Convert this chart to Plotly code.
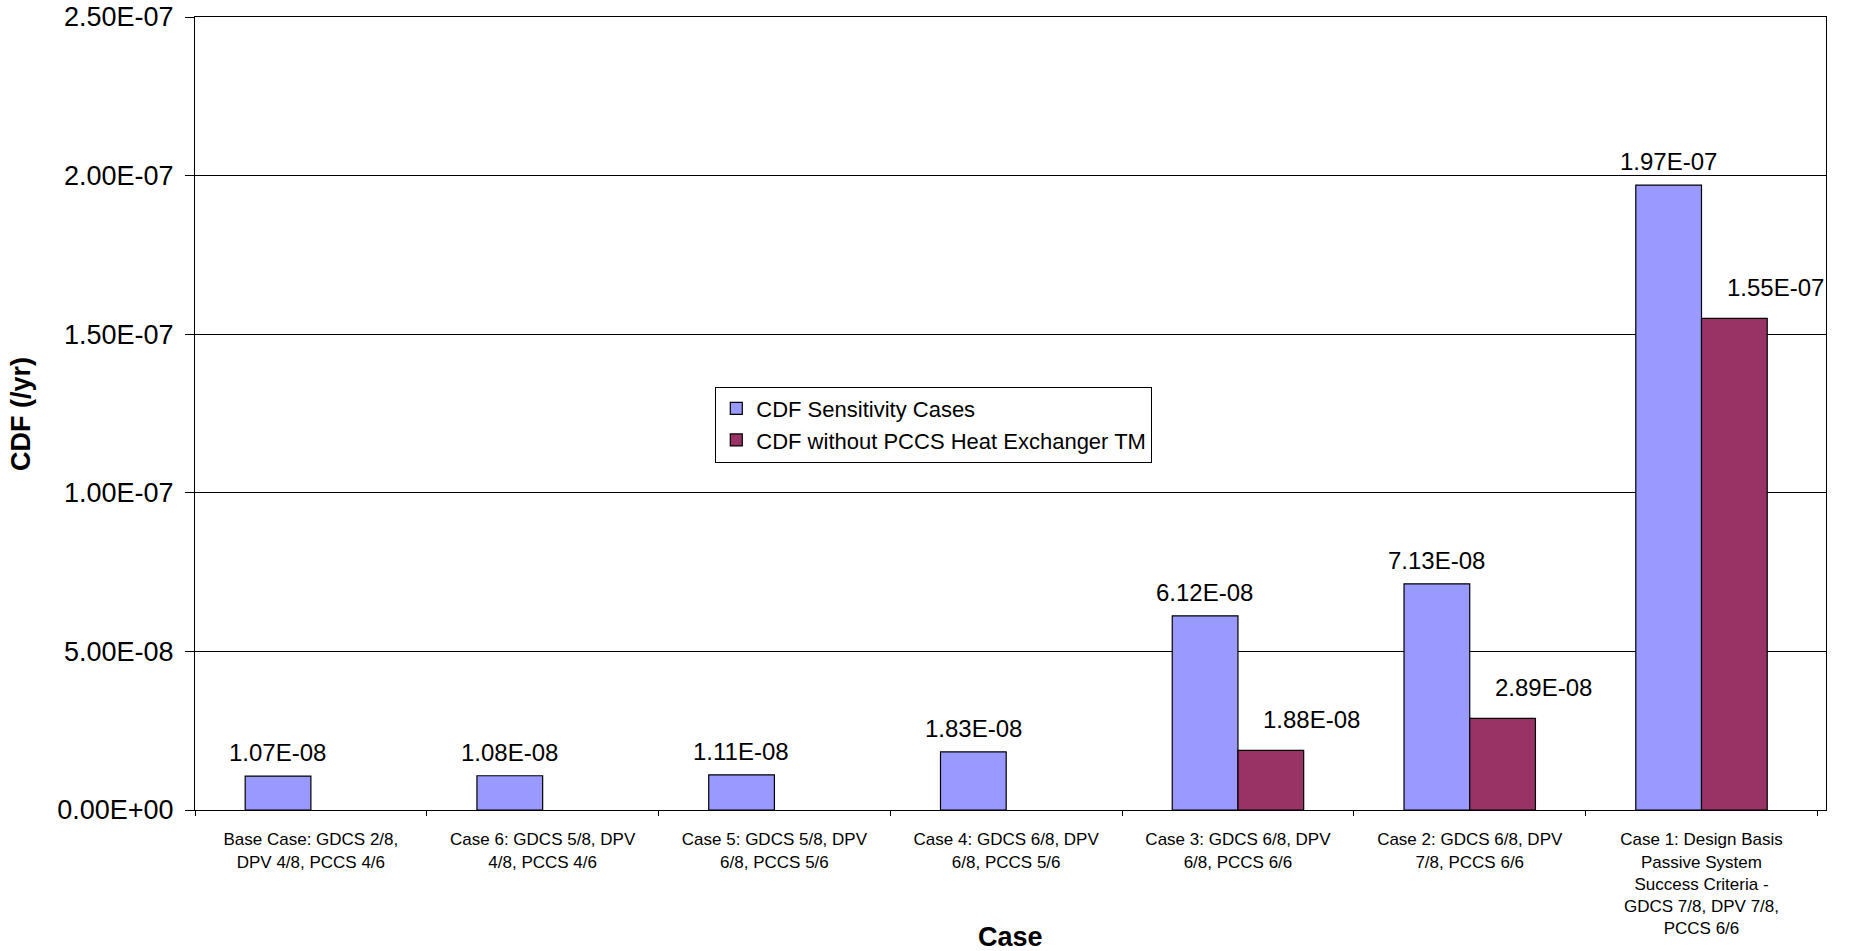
import plotly.graph_objects as go

# ---- data ----
cases = [
    "Base Case: GDCS 2/8,<br>DPV 4/8, PCCS 4/6",
    "Case 6: GDCS 5/8, DPV<br>4/8, PCCS 4/6",
    "Case 5: GDCS 5/8, DPV<br>6/8, PCCS 5/6",
    "Case 4: GDCS 6/8, DPV<br>6/8, PCCS 5/6",
    "Case 3: GDCS 6/8, DPV<br>6/8, PCCS 6/6",
    "Case 2: GDCS 6/8, DPV<br>7/8, PCCS 6/6",
    "Case 1: Design Basis<br>Passive System<br>Success Criteria -<br>GDCS 7/8, DPV 7/8,<br>PCCS 6/6",
]
cdf_sensitivity = [1.07e-8, 1.08e-8, 1.11e-8, 1.83e-8, 6.12e-8, 7.13e-8, 1.97e-7]
cdf_without_pccs = [None, None, None, None, 1.88e-8, 2.89e-8, 1.55e-7]
series_names = ["CDF Sensitivity Cases", "CDF without PCCS Heat Exchanger TM"]
y_tickvals = [0, 5e-8, 1e-7, 1.5e-7, 2e-7, 2.5e-7]
y_ticktext = ["0.00E+00", "5.00E-08", "1.00E-07", "1.50E-07", "2.00E-07", "2.50E-07"]

# ---- style ----
FONT = "Liberation Sans, Arial, sans-serif"
NARROW = "Liberation Sans Narrow, Arial Narrow, Liberation Sans, Arial, sans-serif"
C1 = "#9999FF"
C2 = "#993366"

fig = go.Figure()
fig.add_trace(go.Bar(x=cases, y=cdf_sensitivity, name=series_names[0],
                     marker=dict(color=C1, line=dict(color="black", width=1.2))))
fig.add_trace(go.Bar(x=cases, y=cdf_without_pccs, name=series_names[1],
                     marker=dict(color=C2, line=dict(color="black", width=1.2))))

annotations = []
for i, v in enumerate(cdf_sensitivity):
    if v is not None:
        annotations.append(dict(x=i, y=v, xref="x", yref="y", text=f"{v:.2E}",
                                showarrow=False, yanchor="bottom", xanchor="center",
                                xshift=-33, yshift=8,
                                font=dict(family=FONT, size=24, color="black")))
for i, v in enumerate(cdf_without_pccs):
    if v is not None:
        annotations.append(dict(x=i, y=v, xref="x", yref="y", text=f"{v:.2E}",
                                showarrow=False, yanchor="bottom", xanchor="center",
                                xshift=74, yshift=15,
                                font=dict(family=FONT, size=24, color="black")))
annotations.append(dict(x=0.5, y=-0.1596, xref="paper", yref="paper", text="<b>Case</b>",
                        showarrow=False, xanchor="center", yanchor="middle",
                        font=dict(family=FONT, size=27, color="black")))
annotations.append(dict(x=-0.107, y=0.5, xref="paper", yref="paper", text="<b>CDF (/yr)</b>",
                        showarrow=False, xanchor="center", yanchor="middle", textangle=-90,
                        font=dict(family=FONT, size=27, color="black")))

fig.update_layout(
    width=1853, height=951,
    margin=dict(l=195, r=27, t=17, b=141),
    paper_bgcolor="white", plot_bgcolor="white",
    barmode="group", bargap=0.433, bargroupgap=0,
    font=dict(family=FONT, color="black"),
    annotations=annotations,
    legend=dict(x=0.319, y=0.534, xanchor="left", yanchor="top",
                bgcolor="white", bordercolor="black", borderwidth=1,
                font=dict(family=FONT, size=22, color="black"),
                tracegroupgap=0),
    showlegend=True,
)
fig.update_xaxes(
    type="category",
    showline=True, linecolor="black", linewidth=1, mirror=True,
    ticks="outside", ticklen=5, tickcolor="black", tickson="boundaries",
    tickfont=dict(family=NARROW, size=17, color="black"),
    ticklabelstandoff=14,
    showgrid=False, automargin=False,
)
fig.update_yaxes(
    range=[0, 2.5e-7], tickvals=y_tickvals, ticktext=y_ticktext,
    showline=True, linecolor="black", linewidth=1, mirror=True,
    ticks="outside", ticklen=9, tickcolor="black",
    tickfont=dict(family=FONT, size=27, color="black"),
    ticklabelstandoff=6,
    showgrid=True, gridcolor="black", gridwidth=1,
    zeroline=False, automargin=False,
)

fig.write_html("out.html")
